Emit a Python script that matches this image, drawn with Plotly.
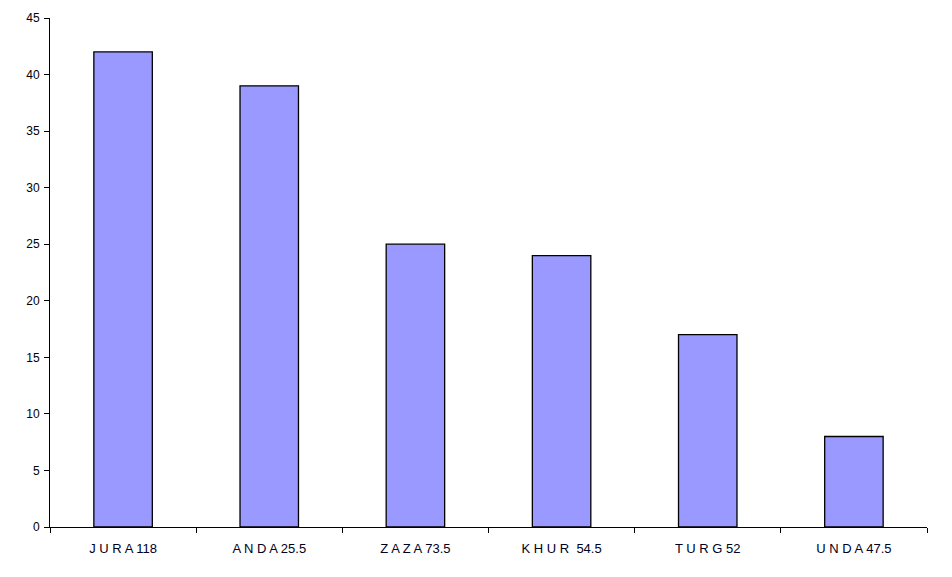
import plotly.graph_objects as go

categories = ["J U R A 118", "A N D A 25.5", "Z A Z A 73.5", "K H U R  54.5", "T U R G 52", "U N D A 47.5"]
values = [42, 39, 25, 24, 17, 8]
y_ticks = [0, 5, 10, 15, 20, 25, 30, 35, 40, 45]

fig = go.Figure(go.Bar(
    x=categories, y=values,
    marker=dict(color="#9999FF", line=dict(color="black", width=1.3)),
    width=0.4,
))

# page body has an 8px default margin, compensated here
fig.update_layout(
    width=952, height=577,
    margin=dict(l=42, r=33, t=10, b=58, autoexpand=False),
    paper_bgcolor="white", plot_bgcolor="white",
    font=dict(family="Liberation Sans, Arial", size=12, color="black"),
    showlegend=False,
    bargap=0.6,
)
fig.update_xaxes(
    type="category", showline=True, linecolor="black", linewidth=1,
    ticks="outside", tickson="boundaries", ticklen=5, tickcolor="black",
    showgrid=False, zeroline=False, tickfont=dict(size=13, color="#000020"),
    range=[-0.5, 5.5], automargin=False, ticklabelstandoff=9,
)
fig.update_yaxes(
    range=[0, 45], tickvals=y_ticks, showline=True, linecolor="black", linewidth=1,
    ticks="outside", ticklen=5, tickcolor="black", showgrid=False, zeroline=False,
    tickfont=dict(size=12, color="black"), automargin=False, ticklabelstandoff=2,
)

fig.write_html("out.html")
